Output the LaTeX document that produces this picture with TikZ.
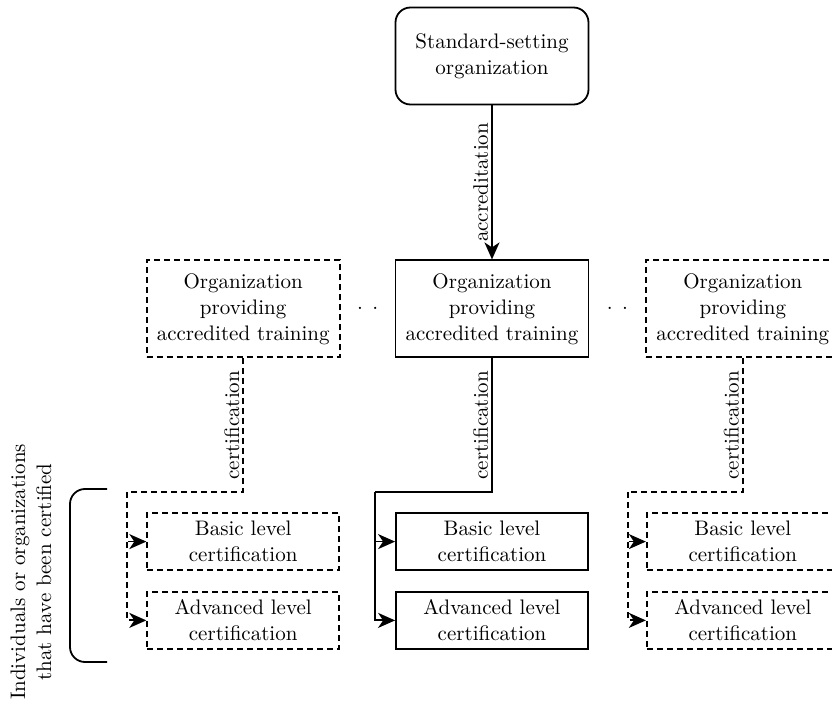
\documentclass[tikz,border=0pt]{standalone}
\usetikzlibrary{positioning,calc,arrows.meta}

\begin{document}
\begin{tikzpicture}[x=0.5pt, y=-0.5pt, node distance=77pt,
        font=\fontsize{10.5}{13}\selectfont,
        block/.style={draw, rectangle, minimum height=48.5pt, minimum width=96.5pt, align=center, inner sep=2pt},
        level/.style={draw, rectangle, minimum height=28.5pt, minimum width=96pt, align=center, inner sep=2pt},
        dashbox/.style={dash pattern=on 3pt off 2pt},
        lbl/.style={rotate=90, anchor=south, inner sep=1.5pt},
        line width=0.9pt,
        >={Stealth[length=8.5pt, width=7.5pt, inset=2.5pt]}
    ]
        \useasboundingbox (0,0) rectangle (832,701);

        \node [block, rounded corners=7.5pt] (std) at (492,56) {Standard-setting\\organization};
        \node [block, below=of std] (mo) {Organization\\providing\\accredited training};
        \node [block, dashbox, left=27pt of mo] (lo) {Organization\\providing\\accredited training};
        \node [block, dashbox, right=28pt of mo] (ro) {Organization\\providing\\accredited training};
        \node (dotsl) at ($(lo.east)!0.5!(mo.west)$) {. .};
        \node (dotsr) at ($(mo.east)!0.5!(ro.west)$) {. .};

        \node [level, below=77pt of mo] (mb) {Basic level\\certification};
        \node [level, below=10pt of mb] (ma) {Advanced level\\certification};
        \node [level, dashbox, below=77pt of lo] (lb) {Basic level\\certification};
        \node [level, dashbox, below=10pt of lb] (la) {Advanced level\\certification};
        \node [level, dashbox, below=77pt of ro] (rb) {Basic level\\certification};
        \node [level, dashbox, below=10pt of rb] (ra) {Advanced level\\certification};

        \coordinate (mj) at ($(mb.north west)+(-10pt,10pt)$);
        \coordinate (lj) at ($(lb.north west)+(-9.5pt,10pt)$);
        \coordinate (rj) at ($(rb.north west)+(-9pt,10pt)$);

        \draw [->] (std) -- (mo) node[lbl, midway] {accreditation};

        \draw (mo.south) |- (mj) node[lbl, pos=0.25] {certification};
        \draw [->] (mj) |- (mb.west);
        \draw [->] (mj) |- (ma.west);

        \draw [dashbox] (lo.south) |- (lj) node[lbl, pos=0.25] {certification};
        \draw [->, dashbox] (lj) |- (lb.west);
        \draw [->, dashbox] (lj) |- (la.west);

        \draw [dashbox] (ro.south) |- (rj) node[lbl, pos=0.25] {certification};
        \draw [->, dashbox] (rj) |- (rb.west);
        \draw [->, dashbox] (rj) |- (ra.west);

        % bracket for the certified ones
        \coordinate (bt) at (107,489);
        \coordinate (bb) at (107,662);
        \draw [rounded corners=7.5pt] (bt) -| (70,575) |- (bb);
        \node [rotate=90, align=center] (certified) at (31,572) {Individuals or organizations\\that have been certified};

    \end{tikzpicture}
\end{document}
